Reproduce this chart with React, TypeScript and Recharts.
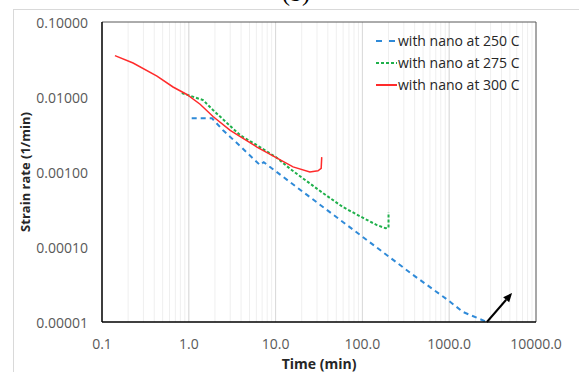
import {
  LineChart,
  Line,
  XAxis,
  YAxis,
  CartesianGrid,
  ReferenceLine,
  Label,
} from "recharts";

// time (min) vs strain rate (1/min)
const rate250 = [
  { t: 1.08, r: 0.0052 },
  { t: 1.85, r: 0.0052 },
  { t: 2.48, r: 0.0036 },
  { t: 3.9, r: 0.00222 },
  { t: 6.6, r: 0.00124 },
  { t: 7.3, r: 0.00135 },
  { t: 23, r: 0.000495 },
  { t: 94, r: 0.000145 },
  { t: 383, r: 0.0000425 },
  { t: 944, r: 0.00002 },
  { t: 1443, r: 0.0000136 },
  { t: 2720, r: 0.00001 },
];

const rate275 = [
  { t: 0.83, r: 0.0113 },
  { t: 1.46, r: 0.0091 },
  { t: 1.9, r: 0.0067 },
  { t: 3.9, r: 0.0031 },
  { t: 6.6, r: 0.00215 },
  { t: 10.4, r: 0.00154 },
  { t: 14.7, r: 0.0011 },
  { t: 35, r: 0.000525 },
  { t: 59.7, r: 0.000341 },
  { t: 102, r: 0.000244 },
  { t: 147, r: 0.000196 },
  { t: 185, r: 0.000178 },
  { t: 200, r: 0.00018 },
  { t: 200, r: 0.00029 },
];

const rate300 = [
  { t: 0.141, r: 0.0356 },
  { t: 0.228, r: 0.0284 },
  { t: 0.43, r: 0.019 },
  { t: 0.658, r: 0.0136 },
  { t: 0.95, r: 0.0108 },
  { t: 1.35, r: 0.008 },
  { t: 1.9, r: 0.0055 },
  { t: 3.0, r: 0.0036 },
  { t: 6.1, r: 0.00215 },
  { t: 9.9, r: 0.00158 },
  { t: 15.9, r: 0.00117 },
  { t: 24.8, r: 0.001 },
  { t: 30.8, r: 0.00104 },
  { t: 33.5, r: 0.00112 },
  { t: 34, r: 0.00158 },
];

// arrow annotation at the end of the 250 C curve
const arrowFrom = { t: 2720, r: 0.00001 };
const arrowTo = { t: 5300, r: 0.0000244 };

const xDecades = [0.1, 1, 10, 100, 1000, 10000];
const yDecades = [0.00001, 0.0001, 0.001, 0.01, 0.1];
const xMinor = xDecades
  .slice(0, -1)
  .flatMap((d) => [2, 3, 4, 5, 6, 7, 8, 9].map((k) => +(d * k).toPrecision(3)));
const xTicks = [...xDecades, ...xMinor].sort((a, b) => a - b);

const series = [
  { name: "with nano at 250 C", data: rate250, color: "#2f8ad8", width: 2, dash: "5 4", swatch: "6 7" },
  { name: "with nano at 275 C", data: rate275, color: "#1fb04b", width: 2, dash: "3 2", swatch: "3 2" },
  { name: "with nano at 300 C", data: rate300, color: "#ff2b2b", width: 1.5, dash: undefined, swatch: undefined },
];

const FONT = "'Open Sans', sans-serif";

const XTick = ({ x, y, payload }: any) => {
  if (!xDecades.includes(payload.value)) return <g />;
  return (
    <text x={x} y={y + 21} textAnchor="middle" dominantBaseline="central" fill="#595959" fontSize={14} fontFamily={FONT}>
      {Number(payload.value).toFixed(1)}
    </text>
  );
};

const YTick = ({ x, y, payload }: any) => (
  <text x={x - 14} y={y} textAnchor="end" dominantBaseline="central" fill="#595959" fontSize={14} fontFamily={FONT}>
    {Number(payload.value).toFixed(5)}
  </text>
);

const Arrow = (props: any) => {
  const { x1, y1, x2, y2 } = props;
  if (x1 == null) return null;
  const a = Math.atan2(y2 - y1, x2 - x1);
  const len = 9;
  const w = 4;
  const bx = x2 - len * Math.cos(a);
  const by = y2 - len * Math.sin(a);
  const pts = [
    `${x2},${y2}`,
    `${bx + w * Math.sin(a)},${by - w * Math.cos(a)}`,
    `${bx - w * Math.sin(a)},${by + w * Math.cos(a)}`,
  ].join(" ");
  return (
    <g>
      <line x1={x1} y1={y1} x2={bx} y2={by} stroke="#000" strokeWidth={2} />
      <polygon points={pts} fill="#000" />
    </g>
  );
};

export default function App() {
  return (
    <div
      style={{
        position: "absolute",
        left: 0,
        top: 0,
        width: 579,
        height: 372,
        background: "#fff",
        overflow: "hidden",
        fontFamily: FONT,
      }}
    >
      <div
        style={{
          position: "absolute",
          left: 13,
          top: 9,
          right: -2,
          bottom: -2,
          borderTop: "1px solid #d9d9d9",
          borderLeft: "1px solid #d9d9d9",
        }}
      />
      <div
        style={{
          position: "absolute",
          left: 282,
          top: -20,
          fontFamily: "'Liberation Serif', serif",
          fontSize: 24,
          color: "#000",
        }}
      >
        (b)
      </div>

      <LineChart
        width={579}
        height={372}
        margin={{ top: 22, right: 43, bottom: 10, left: 10 }}
        style={{ position: "absolute", left: 0, top: 0 }}
      >
        <CartesianGrid horizontal={false} stroke="#efefef" />
        <XAxis
          dataKey="t"
          type="number"
          scale="log"
          domain={[0.1, 10000]}
          ticks={xTicks}
          allowDataOverflow
          height={40}
          tickSize={0}
          tickMargin={0}
          tickLine={false}
          axisLine={{ stroke: "#000", strokeWidth: 1.5 }}
          tick={<XTick />}
          interval={0}
        >
          <Label
            content={({ viewBox }: any) => (
              <text
                x={viewBox.x + viewBox.width / 2}
                y={viewBox.y + 41}
                textAnchor="middle"
                dominantBaseline="central"
                fontWeight="bold"
                fontSize={14}
                fill="#262626"
                fontFamily={FONT}
              >
                Time (min)
              </text>
            )}
          />
        </XAxis>
        <YAxis
          dataKey="r"
          type="number"
          scale="log"
          domain={[0.00001, 0.1]}
          ticks={yDecades}
          allowDataOverflow
          width={92}
          tickSize={0}
          tickMargin={0}
          tickLine={false}
          axisLine={{ stroke: "#000", strokeWidth: 1.5 }}
          tick={<YTick />}
          interval={0}
        >
          <Label
            content={({ viewBox }: any) => {
              const cx = viewBox.x + 15;
              const cy = viewBox.y + viewBox.height / 2;
              return (
                <text
                  x={cx}
                  y={cy}
                  transform={`rotate(-90 ${cx} ${cy})`}
                  textAnchor="middle"
                  dominantBaseline="central"
                  fontWeight="bold"
                  fontSize={13}
                  fill="#262626"
                  fontFamily={FONT}
                >
                  Strain rate (1/min)
                </text>
              );
            }}
          />
        </YAxis>

        {xDecades.slice(1, -1).map((d) => (
          <ReferenceLine key={d} x={d} stroke="#d9d9d9" strokeWidth={1} />
        ))}
        <ReferenceLine y={0.1} stroke="#595959" strokeWidth={1} />
        <ReferenceLine x={10000} stroke="#595959" strokeWidth={1} />

        {series.map((s) => (
          <Line
            key={s.name}
            data={s.data}
            dataKey="r"
            name={s.name}
            type="linear"
            stroke={s.color}
            strokeWidth={s.width}
            strokeDasharray={s.dash}
            dot={false}
            isAnimationActive={false}
          />
        ))}

        <ReferenceLine
          segment={[
            { x: arrowFrom.t, y: arrowFrom.r },
            { x: arrowTo.t, y: arrowTo.r },
          ]}
          ifOverflow="visible"
          shape={<Arrow />}
        />
      </LineChart>

      <div style={{ position: "absolute", left: 376, top: 30, fontSize: 14, color: "#262626" }}>
        {series.map((s) => (
          <div key={s.name} style={{ display: "flex", alignItems: "center", height: 22 }}>
            <svg width={21} height={4} style={{ marginRight: 1 }}>
              <line x1={0} y1={2} x2={21} y2={2} stroke={s.color} strokeWidth={2} strokeDasharray={s.swatch} />
            </svg>
            <span style={{ lineHeight: "22px" }}>{s.name}</span>
          </div>
        ))}
      </div>
    </div>
  );
}
